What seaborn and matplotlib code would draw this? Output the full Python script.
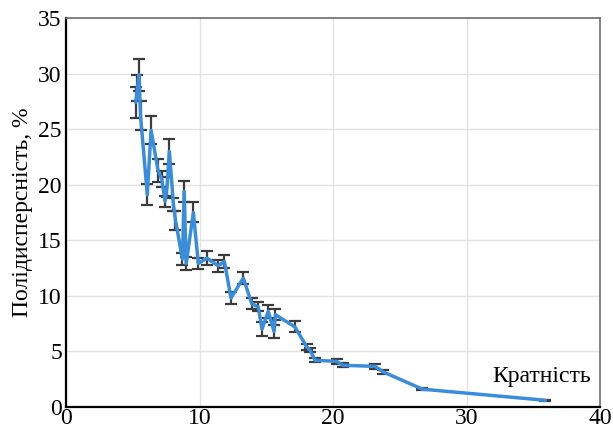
import numpy as np
import pandas as pd
import matplotlib
matplotlib.use("Agg")
import matplotlib.pyplot as plt
import seaborn as sns

# Data
kratnist = [5.22, 5.35, 5.47, 5.58, 6.09, 6.37, 6.89, 7.17, 7.42, 7.57, 7.74, 8.05, 8.2,
            8.72, 8.85, 9.0, 9.54, 9.91, 10.54, 11.41, 11.86, 12.36, 13.28, 13.91, 14.4,
            14.68, 15.15, 15.58, 15.69, 17.15, 18.03, 18.28, 18.65, 20.28, 20.73, 23.15,
            23.77, 26.7, 35.9]
polydisp = [27.4, 28.7, 29.9, 26.2, 19.1, 24.9, 21.3, 20.5, 18.5, 19.8, 23.0, 18.2, 16.8,
            13.3, 19.4, 12.9, 17.5, 12.9, 13.4, 12.7, 13.1, 9.8, 11.6, 9.3, 9.0,
            7.0, 8.6, 6.8, 8.3, 7.2, 5.4, 5.1, 4.2, 4.1, 3.75, 3.65,
            3.15, 1.6, 0.6]
errors = [1.4, 1.2, 1.45, 1.3, 0.95, 1.25, 1.05, 0.7, 0.5, 0.9, 1.1, 0.6, 0.85,
          0.55, 0.95, 0.55, 0.9, 0.5, 0.65, 0.55, 0.6, 0.55, 0.55, 0.5, 0.4,
          0.65, 0.6, 0.6, 0.5, 0.5, 0.25, 0.2, 0.2, 0.25, 0.2, 0.2,
          0.15, 0.1, 0.05]
x_ticks = [0, 10, 20, 30, 40]
y_ticks = [0, 5, 10, 15, 20, 25, 30, 35]

df = pd.DataFrame({"x": kratnist, "y": polydisp, "e": errors})

sns.set_theme(style="white")
plt.rcParams['font.family'] = ['Liberation Serif', 'DejaVu Serif']

fig = plt.figure(figsize=(6.13, 4.32), dpi=100)
ax = fig.add_axes([0.1077, 0.058, 0.8711, 0.9003])

ax.errorbar(df["x"], df["y"], yerr=df["e"], fmt="none", ecolor="#3c3c3c",
            elinewidth=1.6, capsize=4, capthick=1.6, zorder=2)
sns.lineplot(data=df, x="x", y="y", ax=ax, color="#3a8ddb", linewidth=2.5,
             sort=False, estimator=None, zorder=3)

ax.set_xlim(0, 40)
ax.set_ylim(0, 35)
ax.set_xticks(x_ticks)
ax.set_yticks(y_ticks)
ax.set_xticklabels([str(t) for t in x_ticks])
ax.set_yticklabels([str(t) for t in y_ticks])
ax.tick_params(axis="both", length=0, labelsize=17, colors="black", pad=3)
ax.tick_params(axis="x", pad=0.5)
ax.grid(True, color="#e3e3e3", linewidth=1)
ax.set_axisbelow(True)

for s in ["left", "bottom"]:
    ax.spines[s].set_color("black")
    ax.spines[s].set_linewidth(1.6)
for s in ["top", "right"]:
    ax.spines[s].set_color("#6e6e6e")
    ax.spines[s].set_linewidth(1.2)

ax.set_xlabel("")
ax.set_ylabel("Полідисперсність, %", fontsize=17, color="black", labelpad=4)
ax.text(35.6, 2.7, "Кратність", fontsize=17, ha="center", va="center", color="black")

fig.savefig("out.png", dpi=100)
